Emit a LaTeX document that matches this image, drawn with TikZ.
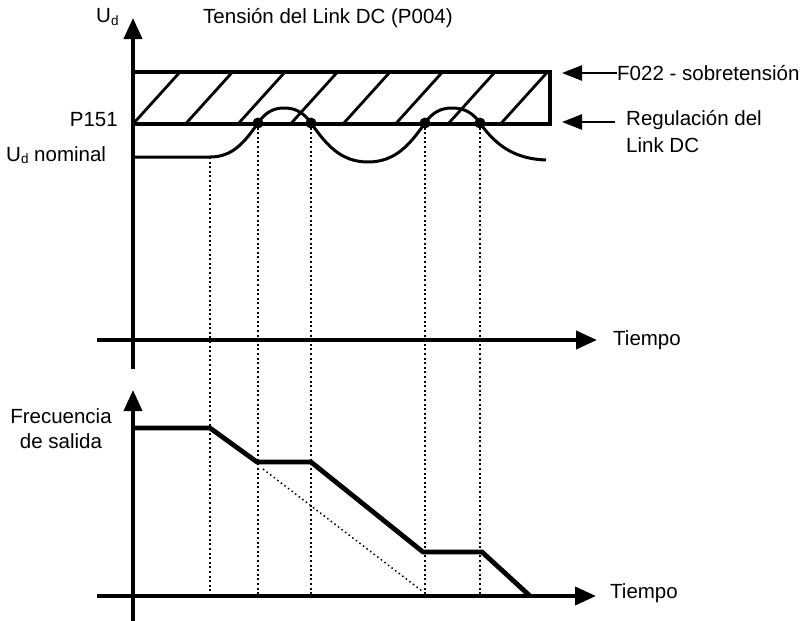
\documentclass[tikz,border=0pt]{standalone}
\usepackage{fontspec}
\setmainfont{Liberation Sans}
\usetikzlibrary{arrows.meta}
\begin{document}
\begin{tikzpicture}[x=1pt,y=-1pt,
  axis/.style={line width=3.8pt,-{Triangle[length=21pt,width=18pt]}},
  ptr/.style={line width=2.5pt,-{Triangle[length=20pt,width=15pt]}},
  boxline/.style={line width=3.8pt},
  hatch/.style={line width=2.8pt},
  wave/.style={line width=3pt},
  freq/.style={line width=4.8pt,line join=miter},
  guide/.style={line width=2pt,dash pattern=on 2pt off 2.6pt},
  ideal/.style={line width=1.5pt,dash pattern=on 1.5pt off 3pt},
  lbl/.style={font=\fontsize{20.5}{24}\selectfont,inner sep=0pt},
  dotmark/.style={circle,fill=black,inner sep=0pt,minimum size=11pt}]
\useasboundingbox (0,0) rectangle (806,621);
% top axes
\coordinate (vt0) at (133,369);
\coordinate (vt1) at (133,18);
\coordinate (ht0) at (97,340);
\coordinate (ht1) at (597,340);
\draw[axis] (vt0) -- (vt1);
\draw[axis] (ht0) -- (ht1);
% hatched band
\begin{scope}
\clip (133,72) rectangle (550,124);
\foreach \k in {-1,...,8} \draw[hatch] ({133+52.5*\k},124) -- ({133+52.5*\k+47},72);
\end{scope}
\draw[boxline] (133,72) coordinate (bxa) rectangle (550,124) coordinate (bxb);
% wave
\coordinate (n0) at (133,157);
\coordinate (n1) at (210,157);
\node[dotmark] (d1) at (258,123) {};
\node[dotmark] (d2) at (311,123) {};
\node[dotmark] (d3) at (425,123) {};
\node[dotmark] (d4) at (480,123) {};
\coordinate (wend) at (546,160);
\draw[wave] (n0) -- (n1) to[out=0,in=235] (d1.center) to[out=55,in=180] (284,108)
  to[out=0,in=125] (d2.center) to[out=-55,in=180] (368,162)
  to[out=0,in=235] (d3.center) to[out=55,in=180] (452,108)
  to[out=0,in=125] (d4.center) to[out=-55,in=178] (wend);
% bottom axes
\coordinate (vb0) at (133,621);
\coordinate (vb1) at (133,390);
\coordinate (hb0) at (97,596);
\coordinate (hb1) at (596,596);
\draw[axis] (vb0) -- (vb1);
\draw[axis] (hb0) -- (hb1);
% guide lines
\coordinate (g0) at (210,596);
\coordinate (g1) at (258,596);
\coordinate (g2) at (311,596);
\coordinate (g3) at (425,596);
\coordinate (g4) at (480,596);
\draw[guide] (n1) -- (g0);
\draw[guide] (d1.center) -- (g1);
\draw[guide] (d2.center) -- (g2);
\draw[guide] (d3.center) -- (g3);
\draw[guide] (d4.center) -- (g4);
% frequency
\coordinate (f0) at (133,428);
\coordinate (f1) at (210,428);
\coordinate (f2) at (257,462);
\coordinate (f3) at (311,462);
\coordinate (f4) at (423,552);
\coordinate (f5) at (482,552);
\coordinate (f6) at (530,596);
\draw[freq] (f0) -- (f1) -- (f2) -- (f3) -- (f4) -- (f5) -- (f6);
\coordinate (i0) at (263,469);
\coordinate (i1) at (422,591);
\draw[ideal] (i0) -- (i1);
% labels
\node[lbl,anchor=west] (ud) at (96,17) {U{\fontsize{13.5}{13.5}\selectfont\raisebox{-0.3ex}{d}}};
\node[lbl,anchor=west] (title) at (203,18) {Tensión del Link DC (P004)};
\node[lbl,anchor=east] (p151) at (118,120) {P151};
\node[lbl,anchor=west] (udn) at (6,155) {U{\fontsize{13.5}{13.5}\selectfont\raisebox{-0.3ex}{d}} nominal};
\node[lbl,anchor=west] (f022) at (617,73) {F022 - sobretensión};
\node[lbl,anchor=north west,align=left,font=\fontsize{20.5}{27}\selectfont] (reg) at (626,110) {Regulación del\\Link DC};
\node[lbl,anchor=west] (t1) at (613,340) {Tiempo};
\node[lbl,anchor=west] (t2) at (610,593) {Tiempo};
\node[lbl,align=center,font=\fontsize{20.5}{25}\selectfont] (fr) at (61,429) {Frecuencia\\de salida};
\coordinate (pa) at (562,73);
\coordinate (pb) at (562,122);
\coordinate (pb0) at (615,122);
\draw[ptr] (f022.west) -- (pa);
\draw[ptr] (pb0) -- (pb);
\end{tikzpicture}
\end{document}
